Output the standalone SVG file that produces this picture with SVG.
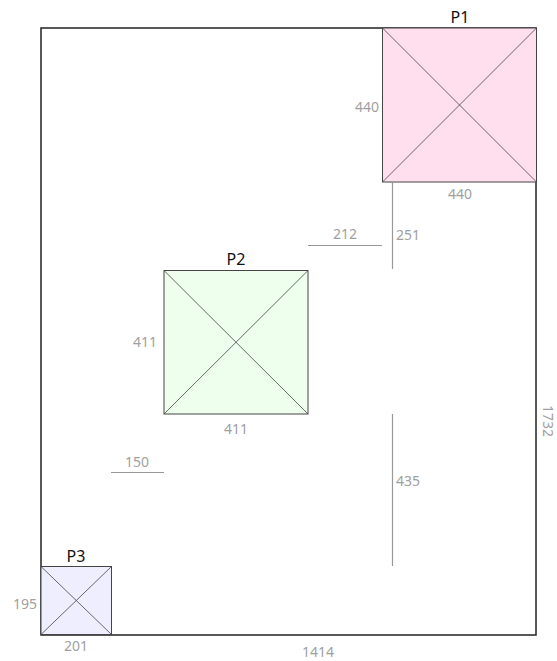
<svg xmlns="http://www.w3.org/2000/svg" width="557" height="661" viewBox="0 0 557 661">
<style>
.dim{fill:#a0a0a0;font-family:"Noto Sans","DejaVu Sans",sans-serif;font-size:14px}
.ttl{fill:#111;font-family:"Noto Sans","DejaVu Sans",sans-serif;font-size:16px;text-anchor:middle}
.sq{stroke:#444;stroke-width:1}
.x{stroke:#444;stroke-width:0.8}
.dl{stroke:#999;stroke-width:1.2}
</style>
<rect width="557" height="661" fill="#fff"/>
<g id="sheet">
<rect x="41" y="28" width="495" height="607" fill="none" stroke="#222" stroke-width="1.5"/>
<text class="dim" x="318" y="657" text-anchor="middle">1414</text>
<text class="dim" transform="translate(543,421) rotate(90)" text-anchor="middle">1732</text>
</g>
<g id="P1">
<rect class="sq" x="382.5" y="28" width="154" height="154" fill="#ffdfee"/>
<path class="x" d="M382.5,28L536.5,182M536.5,28L382.5,182" fill="none"/>
<text class="ttl" x="460" y="23">P1</text>
<text class="dim" x="379" y="112" text-anchor="end">440</text>
<text class="dim" x="460" y="199" text-anchor="middle">440</text>
</g>
<g id="P2">
<rect class="sq" x="164" y="270.5" width="144" height="143.5" fill="#eeffee"/>
<path class="x" d="M164,270.5L308,414M308,270.5L164,414" fill="none"/>
<text class="ttl" x="236" y="265">P2</text>
<text class="dim" x="157" y="347" text-anchor="end">411</text>
<text class="dim" x="236" y="434" text-anchor="middle">411</text>
</g>
<g id="P3">
<rect class="sq" x="41" y="566.5" width="70.5" height="68" fill="#eeeeff"/>
<path class="x" d="M41,566.5L111.5,634.5M111.5,566.5L41,634.5" fill="none"/>
<text class="ttl" x="76" y="562">P3</text>
<text class="dim" x="37" y="609" text-anchor="end">195</text>
<text class="dim" x="76" y="651" text-anchor="middle">201</text>
</g>
<g id="connectors">
<line class="dl" x1="308" y1="245.5" x2="382" y2="245.5"/>
<text class="dim" x="345" y="239" text-anchor="middle">212</text>
<line class="dl" x1="392.5" y1="182" x2="392.5" y2="269"/>
<text class="dim" x="396" y="240">251</text>
<line class="dl" x1="111" y1="472.5" x2="164" y2="472.5"/>
<text class="dim" x="137" y="467" text-anchor="middle">150</text>
<line class="dl" x1="392.5" y1="414" x2="392.5" y2="566"/>
<text class="dim" x="396" y="486">435</text>
</g>
</svg>
